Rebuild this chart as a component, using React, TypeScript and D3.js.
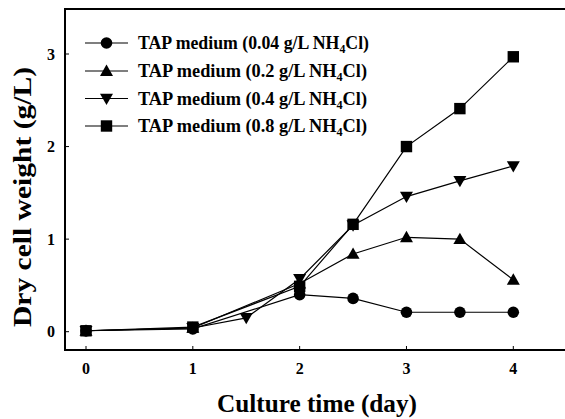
import React from 'react';
import * as d3 from 'd3';

const days04 = [0, 1, 2, 2.5, 3, 3.5, 4];
const dcw004 = [0.01, 0.03, 0.4, 0.36, 0.21, 0.21, 0.21];
const dcw02 = [0.01, 0.04, 0.52, 0.84, 1.02, 1.0, 0.56];
const days4 = [0, 1, 1.5, 2, 2.5, 3, 3.5, 4];
const dcw04 = [0.01, 0.04, 0.15, 0.57, 1.15, 1.46, 1.63, 1.79];
const dcw08 = [0.01, 0.05, 0.49, 1.16, 2.0, 2.41, 2.97];

const seriesNames = ['0.04', '0.2', '0.4', '0.8'];
const xTicks = [0, 1, 2, 3, 4];
const yTicks = [0, 1, 2, 3];

type Shape = 'circle' | 'up' | 'down' | 'square';

const series: { name: string; shape: Shape; xs: number[]; ys: number[] }[] = [
  { name: seriesNames[0], shape: 'circle', xs: days04, ys: dcw004 },
  { name: seriesNames[1], shape: 'up', xs: days04, ys: dcw02 },
  { name: seriesNames[2], shape: 'down', xs: days4, ys: dcw04 },
  { name: seriesNames[3], shape: 'square', xs: days04, ys: dcw08 },
];

const W = 565;
const H = 419;
const left = 65;
const bottom = 350;
const top = 9;

const x = d3.scaleLinear().domain([0, 4]).range([86, 513.3]);
const y = d3.scaleLinear().domain([0, 3]).range([331.7, 54]);

const font = '"Liberation Serif", "Times New Roman", serif';

function Marker({ shape, cx, cy }: { shape: Shape; cx: number; cy: number }) {
  if (shape === 'circle') return <circle cx={cx} cy={cy} r={5.8} fill="#000" />;
  if (shape === 'square') return <rect x={cx - 5.7} y={cy - 5.7} width={11.4} height={11.4} fill="#000" />;
  const s = 6.5;
  const pts =
    shape === 'up'
      ? [[cx, cy - s], [cx + s, cy + s * 0.75], [cx - s, cy + s * 0.75]]
      : [[cx, cy + s], [cx + s, cy - s * 0.75], [cx - s, cy - s * 0.75]];
  return <polygon points={pts.map((p) => p.join(',')).join(' ')} fill="#000" />;
}

export default function App() {
  const line = d3
    .line<[number, number]>()
    .x((d) => x(d[0]))
    .y((d) => y(d[1]));

  const legendRows = [43, 71, 98.5, 126];
  const legendLen = [231, 229, 229, 229];

  return (
    <svg
      width={W}
      height={H}
      style={{ position: 'absolute', left: 0, top: 0, background: '#fff' }}
      fontFamily={font}
    >
      {/* frame */}
      <line x1={left} x2={W} y1={top} y2={top} stroke="#000" strokeWidth={2} />
      <line x1={left} x2={left} y1={top - 1} y2={bottom + 1} stroke="#000" strokeWidth={2} />
      <line x1={left - 1} x2={W} y1={bottom} y2={bottom} stroke="#000" strokeWidth={2} />

      {/* ticks */}
      {xTicks.map((t) => (
        <g key={'x' + t}>
          <line x1={x(t)} x2={x(t)} y1={bottom} y2={bottom - 4} stroke="#000" strokeWidth={1} />
          <text x={x(t)} y={374} textAnchor="middle" fontSize={16} fontWeight="bold">
            {t}
          </text>
        </g>
      ))}
      {yTicks.map((t) => (
        <g key={'y' + t}>
          <line x1={left} x2={left + 4} y1={y(t)} y2={y(t)} stroke="#000" strokeWidth={1} />
          <text x={51} y={y(t) + 5.5} textAnchor="middle" fontSize={16} fontWeight="bold">
            {t}
          </text>
        </g>
      ))}

      {/* series */}
      {series.map((s) => (
        <g key={s.name}>
          <path
            d={line(s.xs.map((v, i) => [v, s.ys[i]] as [number, number])) || ''}
            fill="none"
            stroke="#000"
            strokeWidth={1.2}
          />
          {s.xs.map((v, i) => (
            <Marker key={i} shape={s.shape} cx={x(v)} cy={y(s.ys[i])} />
          ))}
        </g>
      ))}

      {/* legend */}
      {series.map((s, i) => (
        <g key={'l' + s.name}>
          <line x1={85} x2={128} y1={legendRows[i]} y2={legendRows[i]} stroke="#000" strokeWidth={1.2} />
          <Marker shape={s.shape} cx={106.5} cy={legendRows[i]} />
          <text
            x={138}
            y={legendRows[i] + 6}
            fontSize={18}
            fontWeight="bold"
            textLength={legendLen[i]}
            lengthAdjust="spacingAndGlyphs"
          >
            TAP medium ({s.name} g/L NH
            <tspan fontSize={12} dy={4}>4</tspan>
            <tspan dy={-4}>Cl)</tspan>
          </text>
        </g>
      ))}

      {/* axis titles */}
      <text
        x={217}
        y={412}
        fontSize={25}
        fontWeight="bold"
        textLength={200}
        lengthAdjust="spacingAndGlyphs"
      >
        Culture time (day)
      </text>
      <text
        transform={`translate(31,327) rotate(-90)`}
        fontSize={26}
        fontWeight="bold"
        textLength={260}
        lengthAdjust="spacingAndGlyphs"
      >
        Dry cell weight (g/L)
      </text>
    </svg>
  );
}
